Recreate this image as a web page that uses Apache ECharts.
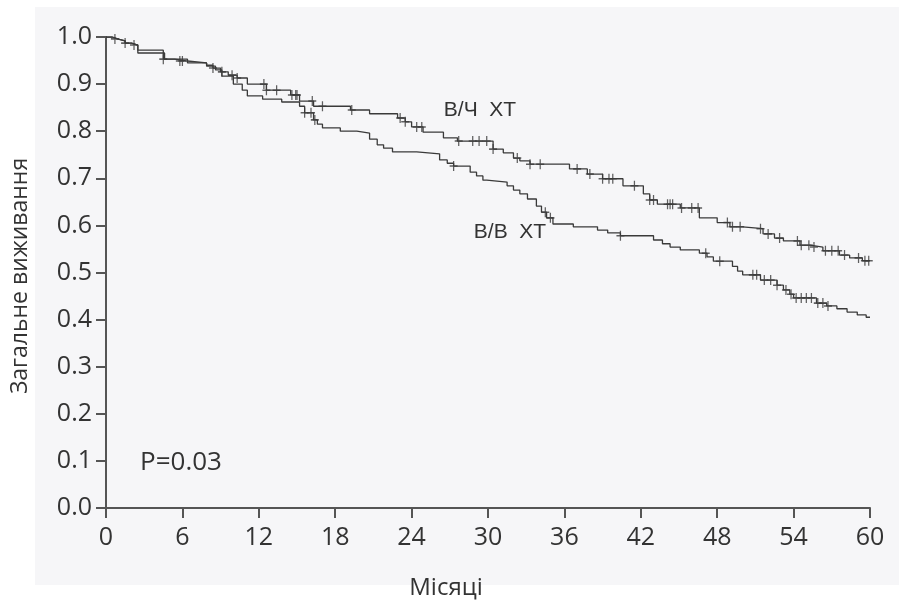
<!DOCTYPE html>
<html><head><meta charset="utf-8">
<script src="https://cdn.jsdelivr.net/npm/echarts@6/dist/echarts.min.js"></script>
<style>html,body{margin:0;padding:0;background:#fff}#c{width:899px;height:601px}</style>
</head><body><div id="c"></div>
<script>
// ---- data ----
const xTickLabels = ['0','6','12','18','24','30','36','42','48','54','60'];
const yTickLabels = ['0.0','0.1','0.2','0.3','0.4','0.5','0.6','0.7','0.8','0.9','1.0'];
const seriesNames = ['В/Ч  ХТ', 'В/В  ХТ'];

const vchTimes = [0,0.5,0.9,1.5,2.0,2.5,4.5,5.4,6.4,7.9,8.4,9.0,9.6,10.3,11.1,12.6,14.5,15.2,16.3,19.2,20.7,22.9,23.5,24.0,24.9,26.5,27.6,30.4,31.2,32.0,32.5,33.3,36.4,37.8,39.0,40.6,42.2,42.7,43.3,45.1,46.6,48.0,49.0,50.0,51.6,52.5,53.2,54.5,55.3,56.3,57.6,58.4,59.4,60];
const vchSurv  = [1.0,0.996,0.992,0.987,0.983,0.972,0.953,0.949,0.945,0.940,0.934,0.926,0.919,0.913,0.900,0.887,0.877,0.864,0.853,0.845,0.837,0.828,0.820,0.809,0.798,0.786,0.779,0.762,0.754,0.743,0.737,0.730,0.720,0.709,0.699,0.684,0.667,0.654,0.645,0.637,0.616,0.606,0.597,0.593,0.582,0.573,0.567,0.558,0.554,0.546,0.537,0.531,0.525,0.525];
const vchCensor = [0.7,1.5,2.2,4.5,5.8,6.0,8.4,9.1,9.9,10.3,12.4,12.6,13.4,14.6,14.9,15.0,16.2,17.0,19.3,23.1,23.5,24.4,24.8,27.7,28.8,29.3,29.9,30.4,32.3,33.3,34.1,37.0,38.0,39.0,39.5,39.8,41.5,42.7,43.0,44.1,44.3,44.5,45.2,46.0,46.5,48.8,49.2,49.8,51.4,52.0,52.9,54.3,54.6,55.2,55.6,56.5,57.0,57.5,58.0,59.1,59.6,59.9];

const vvTimes = [0,0.5,0.9,1.5,2.0,2.5,4.6,6.4,7.9,8.6,9.1,10.0,10.7,11.1,12.3,13.8,15.2,15.6,16.3,16.6,17.0,18.4,19.7,20.7,21.3,21.8,22.5,24.4,26.2,26.8,27.3,28.6,29.1,29.6,29.9,31.5,32.0,32.5,33.1,33.8,34.2,34.6,35.1,36.7,38.6,39.4,40.4,43.0,43.7,44.3,45.1,46.6,47.2,47.7,49.2,49.6,50.0,51.4,52.7,53.2,53.7,54.0,55.8,56.6,57.4,58.2,59.0,59.7,60];
const vvSurv  = [1.0,0.996,0.992,0.987,0.983,0.966,0.953,0.945,0.938,0.930,0.917,0.900,0.887,0.875,0.868,0.862,0.853,0.839,0.824,0.815,0.807,0.800,0.796,0.783,0.771,0.764,0.756,0.752,0.739,0.732,0.726,0.713,0.705,0.696,0.692,0.684,0.675,0.667,0.656,0.641,0.628,0.616,0.603,0.597,0.590,0.584,0.578,0.569,0.561,0.554,0.548,0.541,0.533,0.524,0.513,0.503,0.495,0.484,0.473,0.463,0.454,0.446,0.435,0.429,0.423,0.416,0.410,0.405,0.405];
const vvCensor = [15.6,16.1,16.4,27.3,34.5,34.9,40.4,47.1,48.2,50.8,51.1,51.7,52.2,52.7,53.4,53.8,54.2,54.6,55.0,55.4,55.9,56.3,56.7];

// ---- build ----
function zip(t, s){ return t.map((v,i)=>[v, s[i]]); }
function survAt(t, s, c){ let v = s[0]; for (let i=0;i<t.length;i++){ if (t[i] <= c) v = s[i]; else break; } return v; }
function censorPts(t, s, cs){ return cs.map(c => [c, survAt(t, s, c)]); }

const FONT = '"Open Sans", "Noto Sans", sans-serif';
const plus = 'path://M4,0L4,10M0,5L8,5';
const chart = echarts.init(document.getElementById('c'), null, {renderer:'canvas'});
const lineCol = '#3a3a3a';
chart.setOption({
  backgroundColor: '#ffffff',
  animation: false,
  grid: {left:106, right:29, top:37, bottom:93, containLabel:false},
  xAxis: {
    type:'value', min:0, max:60, interval:6,
    axisLine:{show:true, onZero:false, lineStyle:{color:'#555', width:2}},
    axisTick:{show:true, length:10, lineStyle:{color:'#555', width:2}},
    splitLine:{show:false},
    axisLabel:{color:'#333', fontSize:25, fontFamily:FONT, margin:17,
      formatter:(v)=> xTickLabels[Math.round(v/6)]}
  },
  yAxis: {
    type:'value', min:0, max:1, interval:0.1,
    axisLine:{show:true, lineStyle:{color:'#555', width:2}},
    axisTick:{show:true, length:10, lineStyle:{color:'#555', width:2}},
    splitLine:{show:false},
    axisLabel:{color:'#333', fontSize:25, fontFamily:FONT, margin:14,
      formatter:(v)=> yTickLabels[Math.round(v*10)]}
  },
  graphic: {elements: [
    {type:'rect', z:-10, silent:true, shape:{x:35,y:7,width:864,height:578}, style:{fill:'#f6f6f8'}},
    {type:'text', x:20, y:276, rotation:Math.PI/2, style:{text:'Загальне виживання', fill:'#333', font:'23px '+FONT, textAlign:'center', textVerticalAlign:'middle'}},
    {type:'text', x:446, y:588, style:{text:'Місяці', fill:'#333', font:'24px '+FONT, textAlign:'center', textVerticalAlign:'middle'}},
    {type:'text', x:181, y:463, style:{text:'P=0.03', fill:'#333', font:'26px '+FONT, textAlign:'center', textVerticalAlign:'middle'}},
    {type:'text', x:480, y:110, style:{text:seriesNames[0], fill:'#333', font:'21px "Liberation Sans", Arial, sans-serif', textAlign:'center', textVerticalAlign:'middle'}},
    {type:'text', x:510, y:232, style:{text:seriesNames[1], fill:'#333', font:'21px "Liberation Sans", Arial, sans-serif', textAlign:'center', textVerticalAlign:'middle'}}
  ]},
  series: [
    {name:seriesNames[0], type:'line', step:'end', data:zip(vchTimes, vchSurv), showSymbol:false, symbol:'none', lineStyle:{color:lineCol, width:1.3}},
    {name:seriesNames[1], type:'line', step:'end', data:zip(vvTimes, vvSurv), showSymbol:false, symbol:'none', lineStyle:{color:lineCol, width:1.3}},
    {type:'scatter', data:censorPts(vchTimes, vchSurv, vchCensor), symbol:plus, symbolSize:[8,10], itemStyle:{color:'rgba(0,0,0,0)', borderColor:lineCol, borderWidth:1.4}},
    {type:'scatter', data:censorPts(vvTimes, vvSurv, vvCensor), symbol:plus, symbolSize:[8,10], itemStyle:{color:'rgba(0,0,0,0)', borderColor:lineCol, borderWidth:1.4}}
  ]
});
</script>
</body></html>
